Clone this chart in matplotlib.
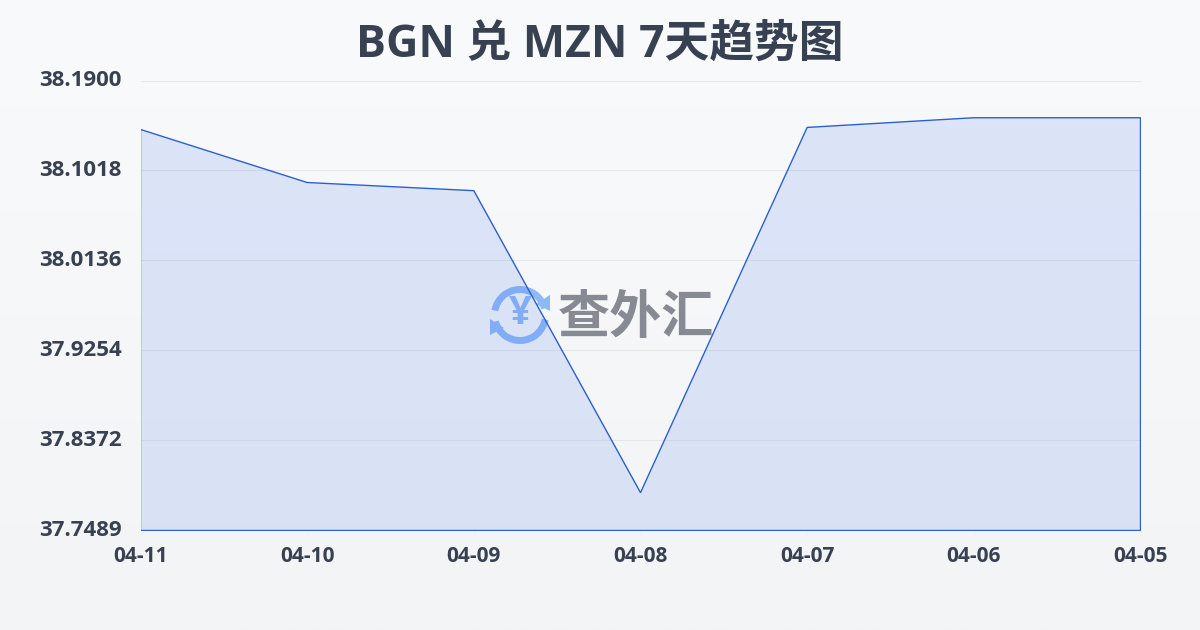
import numpy as np
import matplotlib
matplotlib.use('Agg')
import matplotlib.pyplot as plt
from matplotlib.colors import LinearSegmentedColormap
from matplotlib.patches import Arc, Polygon

plt.rcParams['font.family'] = ['Open Sans', 'Noto Sans CJK SC', 'DejaVu Sans']

# Data
dates = ['04-11', '04-10', '04-09', '04-08', '04-07', '04-06', '04-05']
rates = [38.142, 38.090, 38.082, 37.786, 38.144, 38.1535, 38.1535]
y_ticks = [37.7489, 37.8372, 37.9254, 38.0136, 38.1018, 38.1900]
y_labels = ['37.7489', '37.8372', '37.9254', '38.0136', '38.1018', '38.1900']

W, H = 1200, 630
fig = plt.figure(figsize=(W / 100, H / 100), dpi=100)

# Background gradient and watermark live in a full-figure pixel axes
bg = fig.add_axes([0, 0, 1, 1], zorder=0)
bg.set_xlim(0, W)
bg.set_ylim(H, 0)
bg.axis('off')
cmap = LinearSegmentedColormap.from_list('bg', ['#f9fafb', '#f3f4f6'])
bg.imshow(np.linspace(0, 1, 256).reshape(-1, 1), cmap=cmap, aspect='auto', extent=[0, W, H, 0], zorder=0)

logo_c = '#8fb8f8'
bg.add_patch(Arc((520, 315), 51, 51, theta1=190, theta2=345, color=logo_c, lw=5, zorder=1))
bg.add_patch(Arc((520, 315), 51, 51, theta1=10, theta2=165, color=logo_c, lw=5, zorder=1))
bg.add_patch(Polygon([[536, 304], [550, 295], [550, 311]], color=logo_c, lw=0, zorder=1))
bg.add_patch(Polygon([[490, 319], [504, 328], [490, 335]], color=logo_c, lw=0, zorder=1))
bg.text(520, 314, '¥', color=logo_c, fontsize=29, fontweight='bold', ha='center', va='center',
        family=['Open Sans'], zorder=1)
bg.text(636, 317, '查外汇', color='#858a93', fontsize=37.5, fontweight='bold', ha='center', va='center',
        family=['Noto Sans CJK SC'], zorder=1)

ax = fig.add_axes([140.5 / W, 1 - 530.5 / H, 1000 / W, 450 / H], zorder=1)
ax.patch.set_alpha(0)
x = np.arange(len(dates))
ax.fill_between(x, rates, y_ticks[0], color='#2563eb', alpha=0.13, lw=0, zorder=2)
ax.plot(np.r_[x[0], x, x[-1], x[0]], np.r_[y_ticks[0], rates, y_ticks[0], y_ticks[0]],
        color='#2a5fcf', lw=1, zorder=3, solid_joinstyle='miter')

ax.set_xlim(0, len(dates) - 1)
ax.set_ylim(y_ticks[0], y_ticks[-1])
ax.set_xticks(x)
ax.set_xticklabels(dates)
ax.set_yticks(y_ticks)
ax.set_yticklabels(y_labels)
ax.grid(axis='y', color='#e5e7eb', lw=0.8, zorder=1)
ax.set_axisbelow(True)
for s in ax.spines.values():
    s.set_visible(False)
ax.tick_params(axis='x', length=4, color='#eef1f5', pad=7, labelsize=15, labelcolor='#374151')
ax.tick_params(axis='y', length=0, pad=13.5, labelsize=16, labelcolor='#374151')
for lab in ax.get_xticklabels() + ax.get_yticklabels():
    lab.set_fontweight('bold')
for lab in ax.get_yticklabels():
    lab.set_verticalalignment('center')

fig.text(0.5, 1 - 45 / H, 'BGN 兑 MZN 7天趋势图', ha='center', va='center', fontsize=32.2,
         fontweight='bold', color='#374151', family=['Open Sans', 'Noto Sans CJK SC'])

fig.savefig('out.png', dpi=100)
